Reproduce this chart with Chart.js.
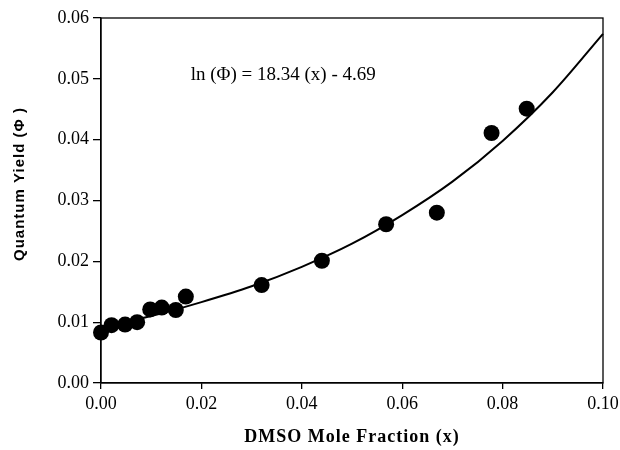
<!DOCTYPE html>
<html>
<head>
<meta charset="utf-8">
<script src="https://cdn.jsdelivr.net/npm/chart.js@4.4.1/dist/chart.umd.min.js"></script>
<style>
html,body{margin:0;padding:0;background:#fff;}
#wrap{width:620px;height:450px;}
</style>
</head>
<body>
<div id="wrap"><canvas id="c" width="620" height="450"></canvas></div>
<script>
// Measured data (DMSO mole fraction vs quantum yield)
const moleFraction = [0.000, 0.0021, 0.0048, 0.0072, 0.0098, 0.0121, 0.0149, 0.0169, 0.032, 0.044, 0.0568, 0.0669, 0.0778, 0.0848];
const quantumYield = [0.0083, 0.0095, 0.0096, 0.0100, 0.0121, 0.0124, 0.0120, 0.0142, 0.0161, 0.0201, 0.0261, 0.0280, 0.0411, 0.0451];
// Fit curve
const curveX = [0.00, 0.01, 0.02, 0.03, 0.04, 0.05, 0.06, 0.07, 0.08, 0.09, 0.10];
const curveY = [0.0092, 0.0110, 0.0133, 0.0159, 0.0191, 0.0229, 0.0276, 0.0331, 0.0398, 0.0478, 0.0574];
const xTicks = [0.00, 0.02, 0.04, 0.06, 0.08, 0.10];
const yTicks = [0.00, 0.01, 0.02, 0.03, 0.04, 0.05, 0.06];
const xTitle = 'DMSO Mole Fraction (x)';
const yTitle = 'Quantum Yield (\u03A6 )';
const equationText = 'ln (\u03A6) = 18.34 (x) - 4.69';
const equationPos = {x: 0.0363, y: 0.0506};

const serif = '"Liberation Serif", "Times New Roman", serif';

const annot = {
  id: 'annot',
  afterDraw(chart) {
    const ctx = chart.ctx, a = chart.chartArea;
    const xs = chart.scales.x, ys = chart.scales.y;
    ctx.save();
    ctx.strokeStyle = '#000';
    ctx.lineWidth = 1.3;
    ctx.strokeRect(a.left, a.top, a.right - a.left, a.bottom - a.top);
    ctx.fillStyle = '#000';
    ctx.textAlign = 'center';
    ctx.textBaseline = 'middle';
    // equation
    ctx.font = '19px ' + serif;
    ctx.fillText(equationText, xs.getPixelForValue(equationPos.x), ys.getPixelForValue(equationPos.y));
    // x title
    ctx.font = 'bold 18px ' + serif;
    try { ctx.letterSpacing = '1px'; } catch (e) {}
    ctx.fillText(xTitle, (a.left + a.right) / 2, 437);
    // y title
    ctx.translate(20, 184);
    ctx.rotate(-Math.PI / 2);
    ctx.font = 'bold 15px "Liberation Sans", Arial, sans-serif';
    try { ctx.letterSpacing = '1px'; } catch (e) {}
    ctx.fillText(yTitle, 0, 0);
    ctx.restore();
  }
};

new Chart(document.getElementById('c'), {
  type: 'scatter',
  data: {
    datasets: [
      {
        type: 'line',
        data: curveX.map((x, i) => ({x: x, y: curveY[i]})),
        borderColor: '#000',
        borderWidth: 2,
        pointRadius: 0,
        fill: false,
        cubicInterpolationMode: 'monotone',
        order: 2
      },
      {
        data: moleFraction.map((x, i) => ({x: x, y: quantumYield[i]})),
        backgroundColor: '#000',
        borderColor: '#000',
        pointRadius: 8,
        borderWidth: 0,
        order: 1
      }
    ]
  },
  options: {
    responsive: false,
    animation: false,
    devicePixelRatio: 1,
    clip: false,
    layout: {padding: {left: 0, right: 0, top: 18, bottom: 0}},
    plugins: {legend: {display: false}, tooltip: {enabled: false}},
    scales: {
      x: {
        type: 'linear',
        min: 0, max: 0.1,
        afterBuildTicks: s => { s.ticks = xTicks.map(v => ({value: v})); },
        afterFit: s => { s.height = 67; s.paddingRight = 17; s.paddingLeft = 0; },
        grid: {display: true, drawOnChartArea: false, tickLength: 6, color: '#000', lineWidth: 1.3},
        border: {display: true, color: '#000', width: 1.3},
        ticks: {color: '#000', font: {family: serif, size: 18}, padding: 4, callback: v => v.toFixed(2)}
      },
      y: {
        type: 'linear',
        min: 0, max: 0.06,
        afterBuildTicks: s => { s.ticks = yTicks.map(v => ({value: v})); },
        afterFit: s => { s.width = 101; s.paddingTop = 0; s.paddingBottom = 0; },
        grid: {display: true, drawOnChartArea: false, tickLength: 8, color: '#000', lineWidth: 1.3},
        border: {display: true, color: '#000', width: 1.3},
        ticks: {color: '#000', font: {family: serif, size: 18}, padding: 4, callback: v => v.toFixed(2)}
      }
    }
  },
  plugins: [annot]
});
</script>
</body>
</html>
